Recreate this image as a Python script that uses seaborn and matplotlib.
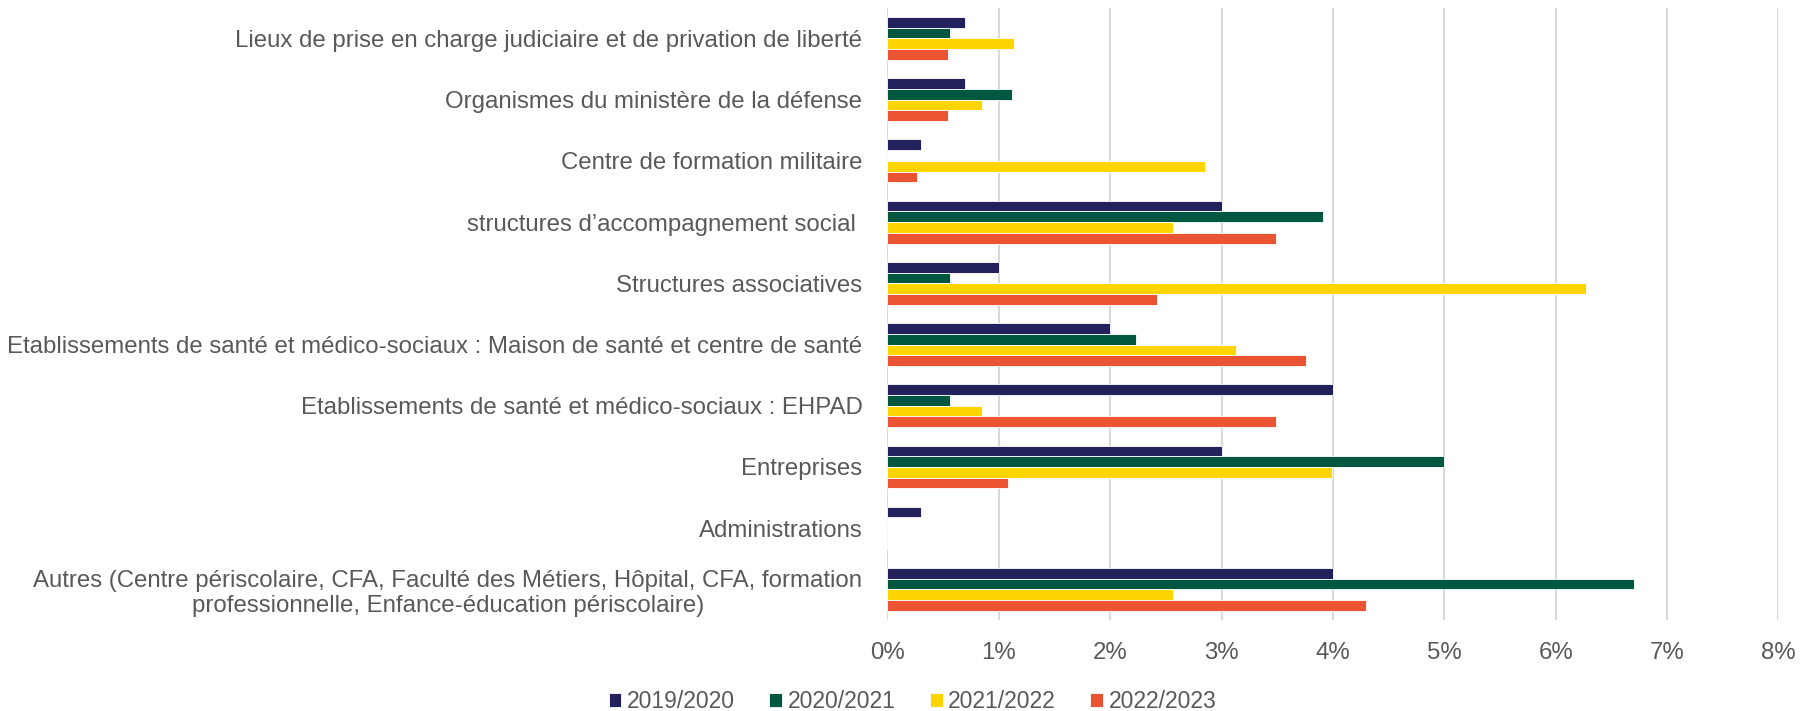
import matplotlib
matplotlib.use("Agg")
import matplotlib.pyplot as plt
from matplotlib import font_manager
from matplotlib.ticker import FuncFormatter
import seaborn as sns
import pandas as pd

# ── Data (percent) ────────────────────────────────────────────────────────────
categories = [
    "Lieux de prise en charge judiciaire et de privation de liberté",
    "Organismes du ministère de la défense",
    "Centre de formation militaire",
    "structures d\u2019accompagnement social ",
    "Structures associatives",
    "Etablissements de santé et médico-sociaux : Maison de santé et centre de santé",
    "Etablissements de santé et médico-sociaux : EHPAD",
    "Entreprises",
    "Administrations",
    "Autres (Centre périscolaire, CFA, Faculté des Métiers, Hôpital, CFA, formation\nprofessionnelle, Enfance-éducation périscolaire)",
]
years = ["2019/2020", "2020/2021", "2021/2022", "2022/2023"]

y2019 = [0.70, 0.70, 0.30, 3.00, 1.00, 2.00, 4.00, 3.00, 0.30, 4.00]
y2020 = [0.56, 1.12, 0.00, 3.91, 0.56, 2.23, 0.56, 5.00, 0.00, 6.70]
y2021 = [1.14, 0.85, 2.85, 2.56, 6.27, 3.13, 0.85, 3.99, 0.00, 2.56]
y2022 = [0.54, 0.54, 0.27, 3.49, 2.42, 3.76, 3.49, 1.08, 0.00, 4.30]

COLORS = ["#22215B", "#00573F", "#FFD500", "#EA5433"]
TEXT = "#595959"

rows = []
for year, vals in zip(years, [y2019, y2020, y2021, y2022]):
    for cat, v in zip(categories, vals):
        rows.append({"Catégorie": cat, "Année": year, "Valeur": v})
df = pd.DataFrame(rows)

# ── Style ─────────────────────────────────────────────────────────────────────
sns.set_theme(style="white")
available = {f.name for f in font_manager.fontManager.ttflist}
family = [f for f in ["Liberation Sans Narrow", "Liberation Sans", "DejaVu Sans"] if f in available]
plt.rcParams["font.family"] = family

fig = plt.figure(figsize=(18, 7.11), dpi=100)
ax = fig.add_axes([0.493, 0.128, 0.495, 0.861])

sns.barplot(
    data=df, y="Catégorie", x="Valeur", hue="Année",
    order=categories, hue_order=years, palette=COLORS,
    orient="h", width=0.7, edgecolor="white", linewidth=0.6,
    saturation=1, ax=ax,
)

ax.set_xlim(0, 8)
ax.set_xticks(range(0, 9))
ax.xaxis.set_major_formatter(FuncFormatter(lambda v, _: f"{v:.0f}%"))
ax.grid(axis="x", color="#D9D9D9", linewidth=1.5)
ax.set_axisbelow(True)
for s in ax.spines.values():
    s.set_visible(False)
ax.set_xlabel("")
ax.set_ylabel("")
ax.tick_params(axis="both", length=0, labelsize=17.3, labelcolor=TEXT)
ax.tick_params(axis="x", pad=16)
ax.tick_params(axis="y", pad=18)
for lbl in ax.get_yticklabels():
    lbl.set_multialignment("center")

handles, labels = ax.get_legend_handles_labels()
ax.legend_.remove()
fig.legend(
    handles, labels, loc="lower center", bbox_to_anchor=(0.507, -0.032),
    ncol=4, frameon=False, fontsize=16.5, labelcolor=TEXT,
    handlelength=0.55, handleheight=0.55, handletextpad=0.25, columnspacing=1.5,
)

fig.savefig("out.png", dpi=100)
